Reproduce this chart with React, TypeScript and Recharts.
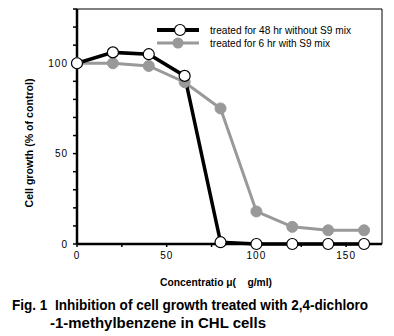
import React from 'react';
import {
  LineChart,
  Line,
  XAxis,
  YAxis,
  ReferenceLine,
} from 'recharts';

const concentrations = [0, 20, 40, 60, 80, 100, 120, 140, 160];
const without48hr = [100, 106, 105, 93, 1, 0, 0, 0, 0];
const withS9 = [100, 100, 98.5, 89.5, 75, 18, 9.5, 7.6, 7.6];

const xTicks = [0, 25, 50, 75, 100, 125, 150];
const yTicks = [0, 10, 20, 30, 40, 50, 60, 70, 80, 90, 100, 110, 120, 130];
const labelledTicks = [0, 50, 100, 150];

const seriesNames = ['treated for 48 hr without S9 mix', 'treated for 6 hr with S9 mix'];

const GRAY = '#999999';
const FONT = "Arial, 'Liberation Sans', sans-serif";

const data = concentrations.map((c, i) => ({
  conc: c,
  without: without48hr[i],
  withS9: withS9[i],
}));

const OpenDot = (props: any) => {
  const { cx, cy } = props;
  if (cx == null || cy == null) return null;
  return <circle cx={cx} cy={cy} r={5.5} fill="#fff" stroke="#000" strokeWidth={1.2} />;
};

const FilledDot = (props: any) => {
  const { cx, cy } = props;
  if (cx == null || cy == null) return null;
  return <circle cx={cx} cy={cy} r={5.5} fill={GRAY} stroke={GRAY} strokeWidth={1} />;
};

// legend drawn by hand, the chart's own legend would eat plot height
const LegendBox = () => (
  <g transform="translate(152,23)">
    <line x1={5} y1={7} x2={47} y2={7} stroke="#000" strokeWidth={4} />
    <circle cx={28} cy={7} r={5.5} fill="#fff" stroke="#000" strokeWidth={1.2} />
    <text x={58} y={11} fontSize={11} fontFamily={FONT} textLength={141} lengthAdjust="spacingAndGlyphs">
      {seriesNames[0]}
    </text>
    <line x1={5} y1={20} x2={47} y2={20} stroke={GRAY} strokeWidth={3} />
    <circle cx={26} cy={20} r={5.5} fill={GRAY} />
    <text x={58} y={24} fontSize={11} fontFamily={FONT} textLength={120} lengthAdjust="spacingAndGlyphs">
      {seriesNames[1]}
    </text>
  </g>
);

const tickStyle = { fontSize: 10, fontFamily: FONT, fill: '#000', letterSpacing: 1 };

export default function App() {
  return (
    <div style={{ position: 'absolute', left: 0, top: 0, width: 394, height: 336, background: '#fff' }}>
      <LineChart
        width={394}
        height={270}
        data={data}
        margin={{ top: 9, right: 12, left: 0, bottom: 0 }}
      >
        <XAxis
          dataKey="conc"
          type="number"
          domain={[0, 170]}
          ticks={xTicks}
          tickFormatter={(v: number) => (labelledTicks.includes(v) ? String(v) : '')}
          axisLine={{ stroke: '#000', strokeWidth: 2.5 }}
          tickLine={{ stroke: '#000', strokeWidth: 1.5 }}
          tickSize={3}
          tickMargin={5}
          height={26}
          tick={tickStyle}
        />
        <YAxis
          type="number"
          domain={[0, 130]}
          ticks={yTicks}
          tickFormatter={(v: number) => (labelledTicks.includes(v) ? String(v) : '')}
          axisLine={{ stroke: '#000', strokeWidth: 2.5 }}
          tickLine={{ stroke: '#000', strokeWidth: 1.5 }}
          tickSize={4}
          tickMargin={5}
          width={77}
          tick={tickStyle}
        />
        <ReferenceLine y={130} stroke="#000" strokeWidth={1} />
        <ReferenceLine x={170} stroke="#000" strokeWidth={1} />
        <Line
          dataKey="withS9"
          name={seriesNames[1]}
          stroke={GRAY}
          strokeWidth={3}
          dot={<FilledDot />}
          isAnimationActive={false}
        />
        <Line
          dataKey="without"
          name={seriesNames[0]}
          stroke="#000"
          strokeWidth={3.5}
          dot={<OpenDot />}
          isAnimationActive={false}
        />
      </LineChart>
      <svg
        width={394}
        height={336}
        style={{ position: 'absolute', left: 0, top: 0, pointerEvents: 'none' }}
      >
        <LegendBox />
        <text
          transform="translate(33,143) rotate(-90)"
          textAnchor="middle"
          fontSize={11}
          fontWeight="bold"
          fontFamily={FONT}
          textLength={129}
          lengthAdjust="spacingAndGlyphs"
        >
          Cell growth (% of control)
        </text>
        <text
          x={160}
          y={286}
          fontSize={11}
          fontWeight="bold"
          fontFamily={FONT}
          xmlSpace="preserve"
          textLength={112}
          lengthAdjust="spacingAndGlyphs"
        >
          {'Concentratio μ(    g/ml)'}
        </text>
        <text
          x={12}
          y={310}
          fontSize={14}
          fontWeight="bold"
          fontFamily={FONT}
          xmlSpace="preserve"
          textLength={356}
          lengthAdjust="spacingAndGlyphs"
        >
          {'Fig. 1  Inhibition of cell growth treated with 2,4-dichloro'}
        </text>
        <text x={50} y={328} fontSize={14} fontWeight="bold" fontFamily={FONT} textLength={216} lengthAdjust="spacingAndGlyphs">
          -1-methylbenzene in CHL cells
        </text>
      </svg>
    </div>
  );
}
